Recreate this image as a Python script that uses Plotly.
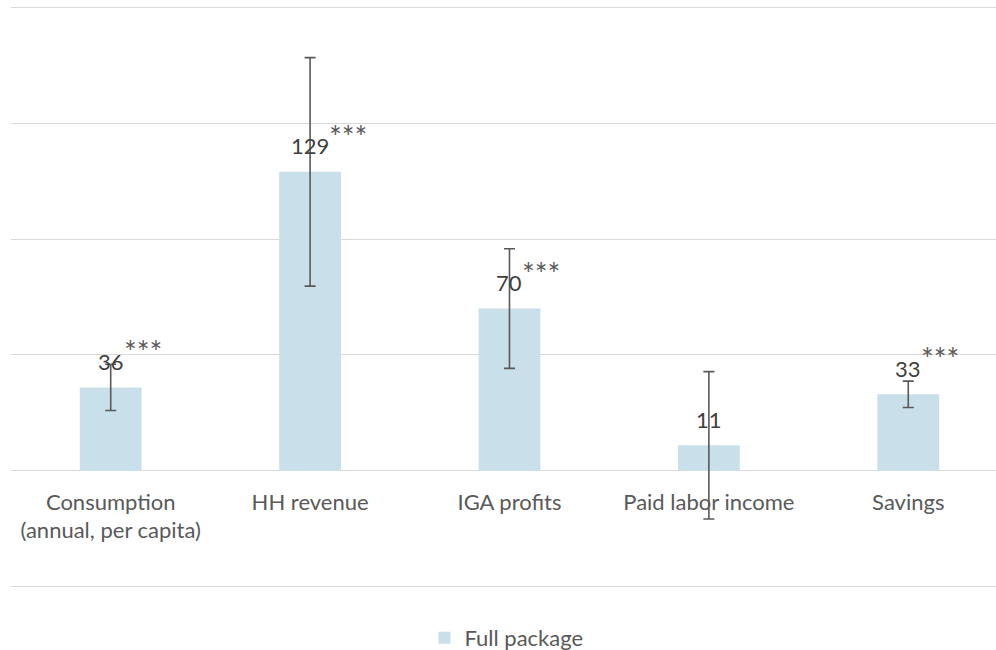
import plotly.graph_objects as go

categories = ["Consumption<br>(annual, per capita)", "HH revenue", "IGA profits",
              "Paid labor income", "Savings"]
values = [36, 129, 70, 11, 33]
errors = [10, 49.3, 25.8, 31.8, 5.7]
stars = ["***", "***", "***", "", "***"]
series_name = "Full package"
ytick_vals = [-50, 0, 50, 100, 150, 200]

FONT = "Lato"
BAR = "#C9DFEA"

fig = go.Figure()
fig.add_trace(go.Bar(
    x=categories, y=values, name=series_name,
    marker=dict(color=BAR, line=dict(width=0)),
    width=0.31,
    error_y=dict(type="data", array=errors, visible=True,
                 color="#595959", thickness=1.6, width=5.5),
))

annotations = []
for c, v, s in zip(categories, values, stars):
    lbl = str(v)
    annotations.append(dict(x=c, y=v, text=lbl, showarrow=False,
                            yshift=26, yanchor="middle", xanchor="center",
                            font=dict(family=FONT, size=22, color="#404040")))
    if s:
        annotations.append(dict(x=c, y=v, text=s, showarrow=False,
                                xshift=5.5 * len(lbl), yshift=36,
                                xanchor="left", yanchor="middle",
                                font=dict(family=FONT, size=30, color="#595959")))

fig.update_layout(
    width=996, height=650,
    margin=dict(l=11, r=0, t=5, b=61, autoexpand=False),
    paper_bgcolor="white", plot_bgcolor="white",
    showlegend=True,
    legend=dict(orientation="h", x=0.503, xanchor="center", y=-0.084, yanchor="middle",
                font=dict(family=FONT, size=22, color="#595959")),
    annotations=annotations,
    xaxis=dict(range=[-0.5, 4.44], showgrid=False, zeroline=False, showline=False,
               anchor="free", position=51 / 252, ticks="", ticklabelstandoff=16,
               automargin=False,
               tickfont=dict(family=FONT, size=22, color="#595959")),
    yaxis=dict(range=[-51, 201], tickvals=ytick_vals, showticklabels=False,
               automargin=False,
               showgrid=True, gridcolor="#D9D9D9", gridwidth=1.3,
               zeroline=True, zerolinecolor="#D9D9D9", zerolinewidth=1.3),
    font=dict(family=FONT),
)

fig.write_html("out.html")
